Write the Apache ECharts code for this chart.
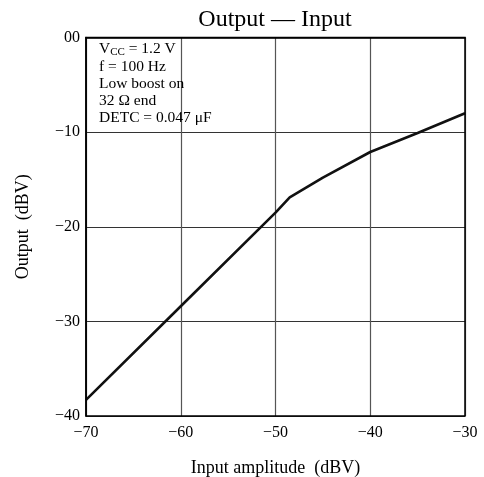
<!DOCTYPE html>
<html>
<head>
<meta charset="utf-8">
<script src="https://cdn.jsdelivr.net/npm/echarts@6/dist/echarts.min.js"></script>
<style>html,body{margin:0;padding:0;background:#fff}#c{width:484px;height:477px}</style>
</head>
<body>
<div id="c"></div>
<script>
var inputDBV = [-70, -60, -50, -48.5, -45, -40, -35, -30];
var outputDBV = [-38.3, -28.4, -18.5, -16.9, -14.8, -12.1, -10.1, -8.0];
var xTickLabels = {'-70':'\u221270','-60':'\u221260','-50':'\u221250','-40':'\u221240','-30':'\u221230'};
var yTickLabels = {'0':'00','-10':'\u221210','-20':'\u221220','-30':'\u221230','-40':'\u221240'};
var titleText = 'Output \u2014 Input';
var noteLines = ['f = 100 Hz', 'Low boost on', '32 \u03a9 end', 'DETC = 0.047 \u03bcF'];

var F = '"Liberation Serif","DejaVu Serif",serif';
var chart = echarts.init(document.getElementById('c'));
var pts = inputDBV.map(function(x, i){ return [x, outputDBV[i]]; });
chart.setOption({
  animation: false,
  title: { text: titleText, left: 270, top: 3, textAlign: 'center',
    textStyle: { fontFamily: F, fontSize: 24, fontWeight: 'normal', color: '#000' } },
  grid: { left: 86, right: 19, top: 37.5, bottom: 61, containLabel: false, outerBoundsMode: 'none' },
  xAxis: {
    type: 'value', min: -70, max: -30, interval: 10,
    name: 'Input amplitude  (dBV)', nameLocation: 'middle', nameGap: 43,
    nameTextStyle: { fontFamily: F, fontSize: 18, color: '#000' },
    axisLine: { show: true, lineStyle: { color: '#000', width: 1.5 } },
    axisTick: { show: false },
    axisLabel: { fontFamily: F, fontSize: 16, color: '#000', margin: 9,
      formatter: function(v){ return xTickLabels[String(v)] || ''; } },
    splitLine: { show: true, lineStyle: { color: '#555', width: 1.2 } }
  },
  yAxis: {
    type: 'value', min: -40, max: 0, interval: 10,
    name: 'Output  (dBV)', nameLocation: 'middle', nameGap: 54, nameRotate: 90,
    nameTextStyle: { fontFamily: F, fontSize: 18, color: '#000' },
    axisLine: { show: true, lineStyle: { color: '#000', width: 1.5 } },
    axisTick: { show: false },
    axisLabel: { fontFamily: F, fontSize: 16, color: '#000', margin: 6,
      formatter: function(v){ return yTickLabels[String(v)] || ''; } },
    splitLine: { show: true, lineStyle: { color: '#333', width: 1.2 } }
  },
  graphic: [
    { type: 'rect', shape: { x: 86, y: 37.5, width: 379, height: 378.5 }, silent: true,
      style: { fill: 'none', stroke: '#000', lineWidth: 1.5 }, z: 10 },
    { type: 'text', left: 99, top: 40.5, z: 11,
      style: { rich: { n: { fontFamily: F, fontSize: 15.5, fill: '#000' }, s: { fontFamily: F, fontSize: 11, fill: '#000', padding: [7,0,0,0] } },
        text: '{n|V}{s|CC}{n| = 1.2 V}' } },
    { type: 'text', left: 99, top: 58.5, z: 11,
      style: { text: noteLines.join('\n'), fontFamily: F, fontSize: 15.5, lineHeight: 17, fill: '#000' } }
  ],
  series: [{
    type: 'line', data: pts, showSymbol: false, symbol: 'none',
    lineStyle: { color: '#111', width: 2.6 }, z: 5
  }]
});
</script>
</body>
</html>
